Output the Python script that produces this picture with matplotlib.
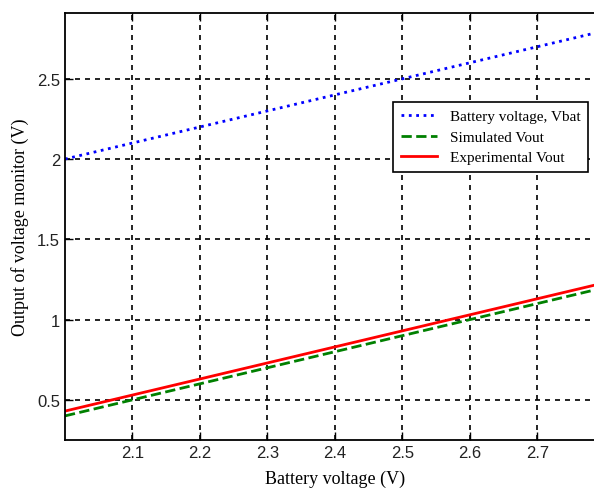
import matplotlib.pyplot as plt

# battery voltage sweep (V)
vbat = [2.0, 2.1, 2.2, 2.3, 2.4, 2.5, 2.6, 2.7, 2.8]
# monitor outputs (V)
sim_vout = [0.40, 0.50, 0.60, 0.70, 0.80, 0.90, 1.00, 1.10, 1.20]
exp_vout = [0.43, 0.53, 0.63, 0.73, 0.83, 0.93, 1.03, 1.13, 1.23]

xticks = [2.1, 2.2, 2.3, 2.4, 2.5, 2.6, 2.7]
yticks = [0.5, 1, 1.5, 2, 2.5]
yticklabels = ["0.5", "1", "1.5", "2", "2.5"]

fig = plt.figure(figsize=(5.94, 4.89), dpi=100)
# axes run a bit past the right edge (the original figure is cropped)
ax = fig.add_axes([0.1094, 0.0982, 0.9091, 0.8732])

ax.plot(vbat, vbat, color="blue", linestyle=":", linewidth=2, label="Battery voltage, Vbat")
ax.plot(vbat, sim_vout, color="#008000", linestyle="--", linewidth=2, label="Simulated Vout")
ax.plot(vbat, exp_vout, color="red", linestyle="-", linewidth=2, label="Experimental Vout")

ax.set_xlim(2.0, 2.8)
ax.set_ylim(0.25, 2.91)
ax.set_xticks(xticks)
ax.set_xticklabels([str(t) for t in xticks])
ax.set_yticks(yticks)
ax.set_yticklabels(yticklabels)

ax.grid(True, color="black", linestyle=(0, (3, 3)), linewidth=1.2)
ax.tick_params(direction="in", length=6, width=1, top=True, right=True, labelsize=12)
for lbl in ax.get_xticklabels() + ax.get_yticklabels():
    lbl.set_family("Liberation Sans")
    lbl.set_color("#222222")
for s in ax.spines.values():
    s.set_linewidth(1.3)

ax.set_xlabel("Battery voltage (V)", family="Liberation Serif", fontsize=13, labelpad=7)
ax.set_ylabel("Output of voltage monitor (V)", family="Liberation Serif", fontsize=13, labelpad=6)

leg = ax.legend(loc="upper left", bbox_to_anchor=(0.6616, 0.7894), bbox_transform=fig.transFigure,
                borderaxespad=0, fancybox=False, framealpha=1, edgecolor="black",
                prop={"family": "Liberation Serif", "size": 11}, handlelength=2.4,
                labelspacing=0.45, borderpad=0.5)
leg.get_frame().set_linewidth(1.2)

fig.savefig("out.png", dpi=100)
